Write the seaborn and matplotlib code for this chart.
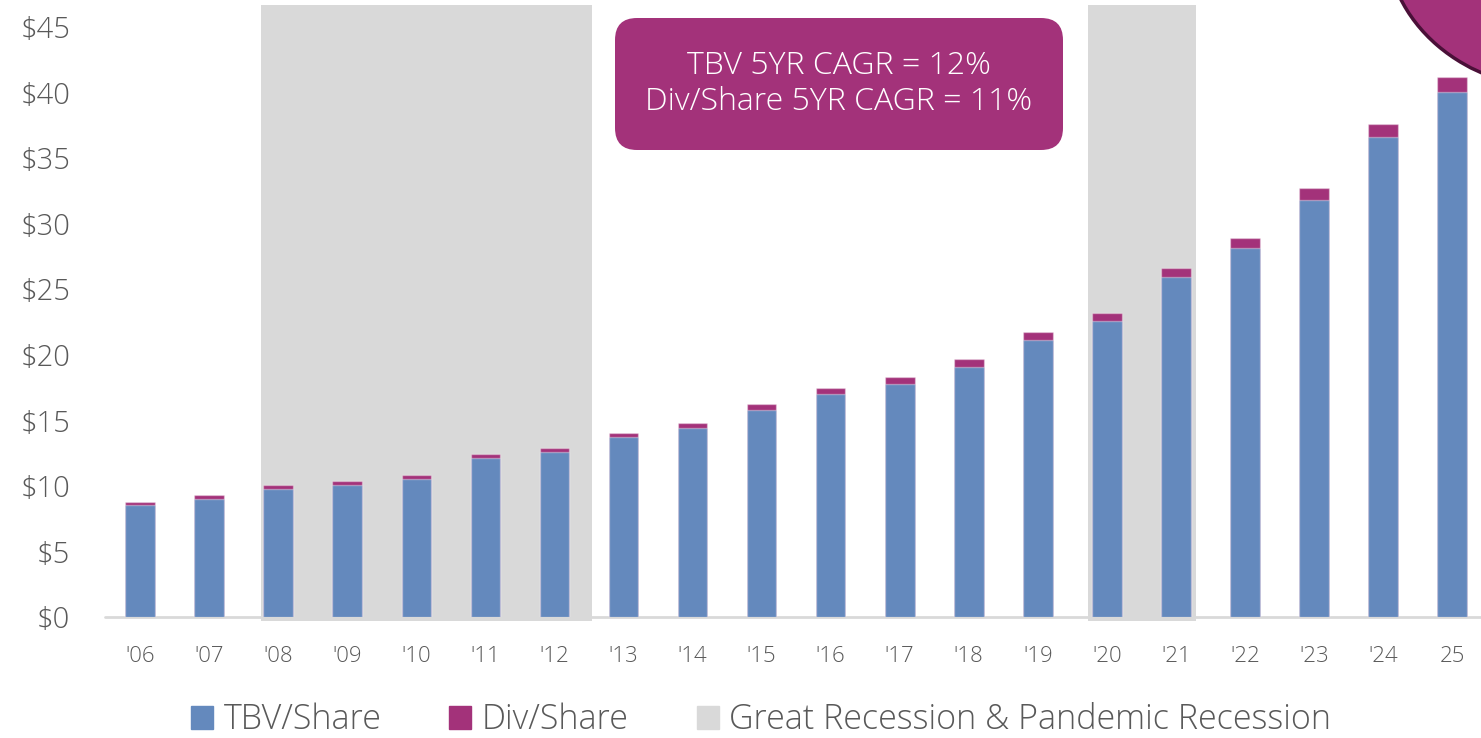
import numpy as np
import pandas as pd
import matplotlib
matplotlib.use("Agg")
import matplotlib.pyplot as plt
import seaborn as sns
from matplotlib.patches import Patch, Rectangle, FancyBboxPatch, Ellipse
from matplotlib.transforms import IdentityTransform

# data
years = ["'06", "'07", "'08", "'09", "'10", "'11", "'12", "'13", "'14", "'15",
         "'16", "'17", "'18", "'19", "'20", "'21", "'22", "'23", "'24", "25"]
tbv_share = [8.52, 9.00, 9.76, 10.07, 10.53, 12.13, 12.59, 13.75, 14.42, 15.81,
             16.99, 17.77, 19.09, 21.15, 22.55, 25.93, 28.15, 31.81, 36.59, 40.02]
div_share = [0.23, 0.28, 0.31, 0.30, 0.30, 0.30, 0.30, 0.29, 0.40, 0.41,
             0.46, 0.51, 0.56, 0.59, 0.64, 0.69, 0.76, 0.91, 1.01, 1.15]
recessions = [(1.75, 6.55), (13.73, 15.29)]
yticks = [0, 5, 10, 15, 20, 25, 30, 35, 40, 45]

blue = "#6489BD"
magenta = "#A3327A"
shade = "#D9D9D9"
grey_txt = "#595959"

df = pd.DataFrame({"year": years, "tbv": tbv_share, "div": div_share})
df["total"] = df["tbv"] + df["div"]

sns.set_theme(style="white")
plt.rcParams["font.family"] = ["Open Sans", "DejaVu Sans"]
plt.rcParams["font.weight"] = "light"

W, H = 1481, 738
fig = plt.figure(figsize=(W / 100, H / 100), dpi=100)
ax = fig.add_axes([105 / W, (H - 617) / H, 1 - 105 / W, 617 / H])

# recession shading
for x0, x1 in recessions:
    ax.add_patch(Rectangle((x0, -0.3), x1 - x0, 47.0, facecolor=shade,
                           edgecolor="none", zorder=0, clip_on=False))

sns.barplot(data=df, x="year", y="total", color=magenta, width=0.43, ax=ax,
            saturation=1, edgecolor=(1, 1, 1, 0.35), linewidth=1, zorder=2)
sns.barplot(data=df, x="year", y="tbv", color=blue, width=0.43, ax=ax,
            saturation=1, edgecolor=(1, 1, 1, 0.35), linewidth=1, zorder=3)

ax.set_xlim(-0.51, 19.42)
ax.set_ylim(0, 617 / 13.11)
ax.axhline(0, color=shade, lw=2, zorder=1, clip_on=False)
for s in ax.spines.values():
    s.set_visible(False)
ax.set_xlabel("")
ax.set_ylabel("")
ax.set_yticks(yticks)
ax.set_yticklabels([f"${v}" for v in yticks])
ax.tick_params(axis="y", length=0, pad=25, labelsize=21, labelcolor=grey_txt)
ax.tick_params(axis="x", length=0, pad=21, labelsize=16, labelcolor=grey_txt)
ax.grid(False)

# CAGR callout box
r = 22
bx0, by0, bx1, by1 = 615, H - 150, 1063, H - 18
box = FancyBboxPatch((bx0 + r, by0 + r), bx1 - bx0 - 2 * r, by1 - by0 - 2 * r,
                     boxstyle=f"round,pad={r}", facecolor=magenta,
                     edgecolor="none", transform=IdentityTransform())
fig.add_artist(box)
fig.text(839 / W, 1 - 84 / H, "TBV 5YR CAGR = 12%\nDiv/Share 5YR CAGR = 11%",
         ha="center", va="center", color="white", fontsize=23, linespacing=1.15)

# cut-off decoration top right
ell = Ellipse((1560 / W, 1 + 60 / H), 347 / W, 298 / H, facecolor=magenta,
              edgecolor="#4A1038", lw=2.5, transform=fig.transFigure)
fig.add_artist(ell)

handles = [Patch(color=blue, label="TBV/Share"),
           Patch(color=magenta, label="Div/Share"),
           Patch(color=shade, label="Great Recession & Pandemic Recession")]
fig.legend(handles=handles, loc="center", bbox_to_anchor=(761 / W, 1 - 720 / H),
           ncol=3, frameon=False, fontsize=24.5, labelcolor=grey_txt,
           handlelength=0.65, handleheight=0.65, handletextpad=0.3,
           columnspacing=2.0)

fig.savefig("out.png", dpi=100)
